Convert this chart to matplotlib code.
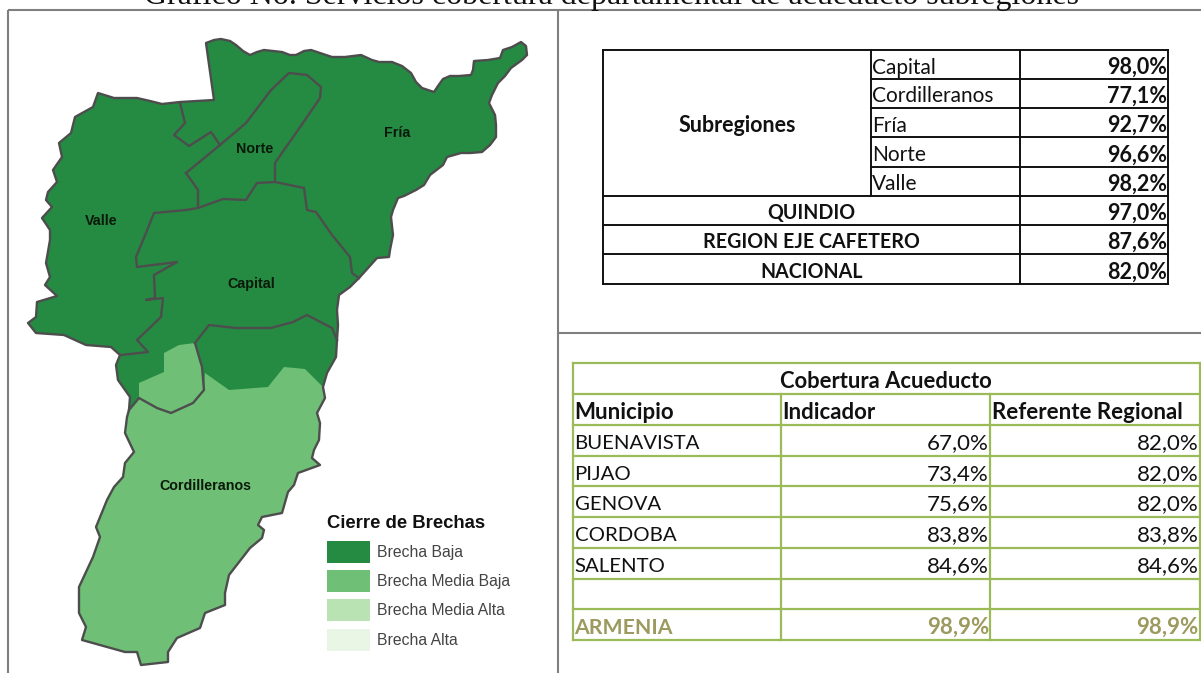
import matplotlib
matplotlib.use("Agg")
import matplotlib.pyplot as plt
from matplotlib.patches import Polygon, Rectangle

TITLE = "Gráfico No. Servicios cobertura departamental de acueducto subregiones"

subregions = ["Capital", "Cordilleranos", "Fría", "Norte", "Valle"]
subregion_values = ["98,0%", "77,1%", "92,7%", "96,6%", "98,2%"]
totals = ["QUINDIO", "REGION EJE CAFETERO", "NACIONAL"]
total_values = ["97,0%", "87,6%", "82,0%"]

municipios = ["BUENAVISTA", "PIJAO", "GENOVA", "CORDOBA", "SALENTO", "", "ARMENIA"]
indicador = ["67,0%", "73,4%", "75,6%", "83,8%", "84,6%", "", "98,9%"]
referente = ["82,0%", "82,0%", "82,0%", "83,8%", "84,6%", "", "98,9%"]

legend_labels = ["Brecha Baja", "Brecha Media Baja", "Brecha Media Alta", "Brecha Alta"]
legend_colors = ["#258B43", "#6FC076", "#B9E3B2", "#E9F6E5"]

# Map outlines (pixel coordinates of the reference)
outline_north = [(206,43),(214,40),(221,39),(230,41),(236,45),(243,51),(250,55),(257,52),(264,50),
    (273,51),(282,52),(290,55),(296,55),(304,51),(311,50),(320,53),(332,57),(345,57),(361,55),
    (372,60),(379,62),(392,62),(402,66),(411,73),(416,82),(422,88),(434,92),(438,86),(443,79),
    (450,76),(459,76),(471,75),(473,70),(474,61),(488,60),(500,58),(503,50),(512,47),(521,42),
    (526,46),(527,55),(522,60),(511,68),(505,76),(498,83),(492,95),(489,103),(495,115),(496,125),
    (496,137),(490,145),(482,152),(470,153),(461,153),(447,157),(443,165),(430,175),(424,185),
    (416,190),(404,196),(398,198),(393,210),(391,217),(393,235),(390,250),(389,257),(377,258),
    (368,268),(359,278),(350,287),(339,295),(337,310),(338,325),(337,340),(336,357),(327,373)]
outline_south = [(323,387),(325,398),(317,413),(320,423),(319,440),(314,450),(312,458),(320,465),
    (298,473),(294,485),(288,492),(282,513),(262,517),(258,525),(264,530),(262,538),(250,548),
    (229,575),(225,593),(225,605),(205,613),(200,628),(177,638),(168,652),(168,662),(141,665),
    (137,652),(125,652),(82,640),(86,627),(79,613),(79,587),(93,557),(100,537),(96,527),(107,500),
    (114,487),(123,477),(125,463),(134,452),(125,433),(127,417),(129,410)]
outline_west = [(130,397),(118,380),(116,365),(120,355),(111,347),(86,345),(64,335),(36,333),(28,323),
    (36,317),(37,302),(57,296),(45,285),(50,277),(46,263),(50,240),(50,230),(42,218),(52,207),(46,200),
    (48,192),(57,182),(53,170),(62,157),(59,143),(71,133),(75,117),(93,107),(98,93),(114,98),(137,98),
    (150,101),(162,104),(180,102),(214,100)]
light_top = [(129,410),(139,398),(157,408),(171,413),(193,403),(204,390),(205,373),(229,390),
    (268,387),(284,367),(305,369),(323,387)]
patch_pijao = [(179,345),(195,343),(202,367),(204,390),(193,403),(171,413),(157,408),(139,398),
    (139,383),(164,372),(164,353)]

inner_lines = [
    [(180,103),(185,123),(174,135),(189,146),(211,132),(220,145)],
    [(186,173),(220,145),(246,123),(271,90),(289,73),(307,75),(321,87),(320,98),(307,117),(296,133),
     (284,150),(275,163),(275,182),(257,183),(246,200),(223,199),(198,208),(186,210),(154,213),
     (146,233),(136,257),(137,267),(177,262),(154,275),(155,298),(146,300),(163,298),(161,317),
     (137,340),(148,352),(121,355)],
    [(186,173),(198,190),(198,207)],
    [(275,182),(304,188),(307,210),(316,212),(332,235),(350,257),(352,273),(359,278)],
    [(195,343),(209,325),(236,328),(271,328),(293,322),(307,315),(332,328),(337,340)],
    [(195,343),(202,367),(204,390),(193,403),(171,413),(157,408),(139,398),(129,410)],
]

map_labels = [("Fría", 397, 132), ("Norte", 255, 148), ("Valle", 101, 220),
              ("Capital", 251, 283), ("Cordilleranos", 205, 485)]

BODY = ["Lato", "Open Sans", "DejaVu Sans"]
MAPFONT = ["Liberation Sans", "DejaVu Sans"]
FRAME = "#7F7F7F"
EDGE = "#4D4D4D"
GREEN_LINE = "#9BBB59"
OLIVE = "#9C9A5E"

fig = plt.figure(figsize=(12.01, 6.73), dpi=100)
ax = fig.add_axes([0, 0, 1, 1])
ax.set_xlim(0, 1201)
ax.set_ylim(673, 0)
ax.axis("off")

# title, cut by the top of the page as in the reference
ax.text(611, 4, TITLE, family="Liberation Serif", fontsize=23, ha="center", va="baseline", color="#111111")

# frame
for x0, y0, x1, y1 in [(8, 10, 1201, 10), (8, 10, 8, 673), (558, 10, 558, 673), (558, 333, 1201, 333)]:
    ax.plot([x0, x1], [y0, y1], color=FRAME, lw=1.5, solid_capstyle="butt")

# map
full = outline_north + outline_south + outline_west
ax.add_patch(Polygon(full, closed=True, facecolor=legend_colors[0], edgecolor="none", zorder=2))
south = light_top + outline_south[1:-1]
ax.add_patch(Polygon(south, closed=True, facecolor=legend_colors[1], edgecolor="none", zorder=3))
ax.add_patch(Polygon(patch_pijao, closed=True, facecolor=legend_colors[1], edgecolor="none", zorder=3))
ax.add_patch(Polygon(full, closed=True, facecolor="none", edgecolor=EDGE, lw=1.7, joinstyle="round", zorder=4))
for line in inner_lines:
    xs, ys = zip(*line)
    ax.plot(xs, ys, color=EDGE, lw=1.7, solid_joinstyle="round", zorder=4)
for text, x, y in map_labels:
    ax.text(x, y + 1, text, family=MAPFONT, fontsize=10.3, fontweight="bold", ha="center", va="center",
            color="#0A1A0A", zorder=5)

# legend
ax.text(327, 523.5, "Cierre de Brechas", family=MAPFONT, fontsize=13.3, fontweight="bold", ha="left",
        va="center", color="#111111")
for i, (lab, col) in enumerate(zip(legend_labels, legend_colors)):
    y = 541 + i * 29.2
    ax.add_patch(Rectangle((327, y), 43, 22, facecolor=col, edgecolor="none"))
    ax.text(377, y + 11.5, lab, family=MAPFONT, fontsize=11.3, ha="left", va="center", color="#444444")

# upper table
tx = [603, 871, 1020, 1168]
ty = [50, 79, 108, 137, 167, 196, 225, 254, 284]
BLK = "#111111"


def seg(x0, y0, x1, y1, c=BLK, lw=1.4):
    ax.plot([x0, x1], [y0, y1], color=c, lw=lw, solid_capstyle="projecting", zorder=6)


seg(tx[0], ty[0], tx[3], ty[0])
seg(tx[0], ty[-1], tx[3], ty[-1])
seg(tx[0], ty[0], tx[0], ty[-1])
seg(tx[3], ty[0], tx[3], ty[-1])
seg(tx[2], ty[0], tx[2], ty[-1])
seg(tx[1], ty[0], tx[1], ty[5])
for y in ty[1:5]:
    seg(tx[1], y, tx[3], y)
for y in ty[5:8]:
    seg(tx[0], y, tx[3], y)

FS = 14.1
FS_VAL = 15.5
DY = 3
ax.text((tx[0] + tx[1]) / 2, (ty[0] + ty[5]) / 2 + DY, "Subregiones", family=BODY, fontsize=15.5,
        fontweight="bold", ha="center", va="center", color=BLK)
for i, (name, val) in enumerate(zip(subregions, subregion_values)):
    yc = (ty[i] + ty[i + 1]) / 2 + DY
    ax.text(tx[1] + 1, yc, name, family=BODY, fontsize=15, ha="left", va="center", color=BLK)
    ax.text(tx[3] - 1, yc, val, family=BODY, fontsize=FS_VAL, fontweight="bold", ha="right", va="center", color=BLK)
for i, (name, val) in enumerate(zip(totals, total_values)):
    yc = (ty[5 + i] + ty[6 + i]) / 2 + DY
    ax.text((tx[0] + tx[2]) / 2, yc, name, family=BODY, fontsize=FS, fontweight="bold", ha="center",
            va="center", color=BLK)
    ax.text(tx[3] - 1, yc, val, family=BODY, fontsize=FS_VAL, fontweight="bold", ha="right", va="center", color=BLK)

# lower table
bx = [573, 781, 990, 1200]
by = [363, 394, 425, 456, 486, 517, 548, 579, 609, 640]
for y in by:
    seg(bx[0], y, bx[3], y, GREEN_LINE, 1.6)
seg(bx[0], by[0], bx[0], by[-1], GREEN_LINE, 1.6)
seg(bx[3], by[0], bx[3], by[-1], GREEN_LINE, 1.6)
seg(bx[1], by[1], bx[1], by[-1], GREEN_LINE, 1.6)
seg(bx[2], by[1], bx[2], by[-1], GREEN_LINE, 1.6)

FS2 = 14.7
ax.text(886, (by[0] + by[1]) / 2 + DY, "Cobertura Acueducto", family=BODY, fontsize=15.8, fontweight="bold",
        ha="center", va="center", color=BLK)
for x, text in zip(bx[:3], ["Municipio", "Indicador", "Referente Regional"]):
    ax.text(x + 1.5, (by[1] + by[2]) / 2 + DY, text, family=BODY, fontsize=16, fontweight="bold", ha="left",
            va="center", color=BLK)
for i, (m, a, r) in enumerate(zip(municipios, indicador, referente)):
    yc = (by[i + 2] + by[i + 3]) / 2 + DY
    last = m == "ARMENIA"
    col = OLIVE if last else BLK
    w = "bold" if last else "normal"
    ax.text(bx[0] + 1.5, yc, m, family=BODY, fontsize=15.3 if last else FS2, fontweight=w, ha="left", va="center", color=col)
    ax.text(bx[2] - 1, yc, a, family=BODY, fontsize=16, fontweight=w, ha="right", va="center", color=col)
    ax.text(bx[3] - 1.5, yc, r, family=BODY, fontsize=16, fontweight=w, ha="right", va="center", color=col)

fig.savefig("out.png", dpi=100, facecolor="white")
